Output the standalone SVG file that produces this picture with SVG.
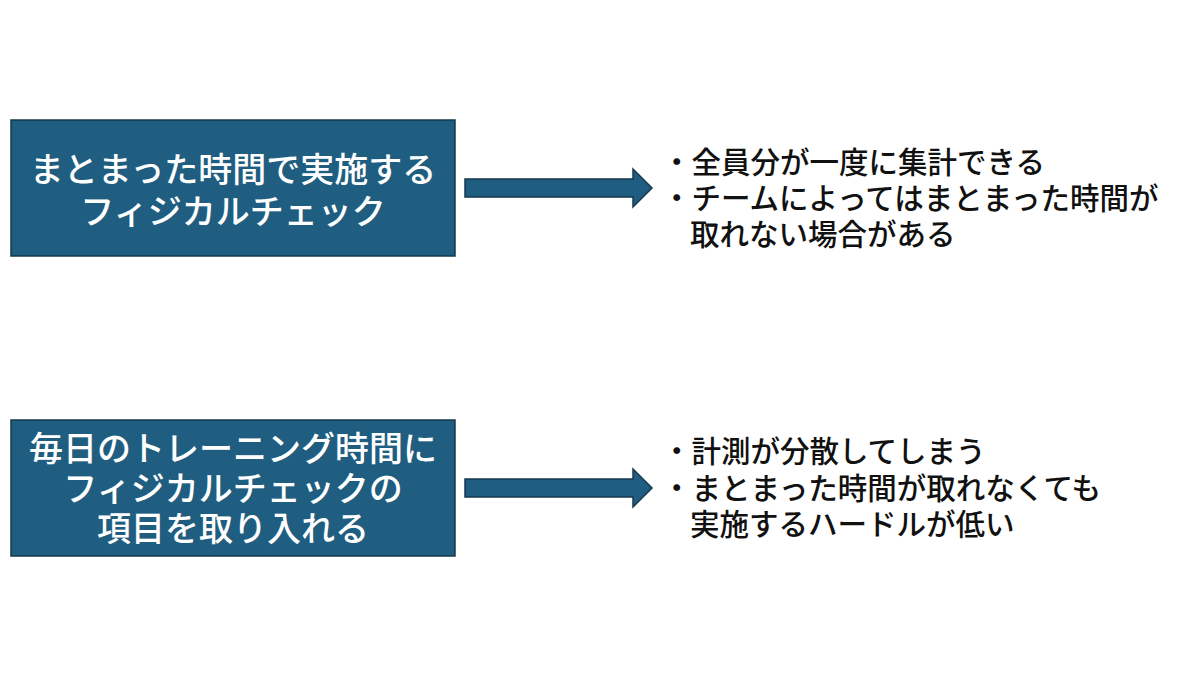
<svg xmlns="http://www.w3.org/2000/svg" width="1200" height="675" viewBox="0 0 1200 675">
<style>
.box{fill:#1f5e80;stroke:#16384d;stroke-width:1.5}
.bt{font-family:"Noto Sans CJK JP","Noto Sans",sans-serif;font-size:34px;font-weight:500;fill:#fff;text-anchor:middle}
.rt{font-family:"Noto Sans CJK JP","Noto Sans",sans-serif;font-size:29.5px;font-weight:500;fill:#111}
.arr{fill:#1f5e80;stroke:#16384d;stroke-width:1.5}
</style>
<rect width="1200" height="675" fill="#fff"/>
<g id="node1"><rect class="box" x="11" y="120" width="444" height="136"/>
<text class="bt" x="233" y="182">まとまった時間で実施する</text>
<text class="bt" x="233" y="224">フィジカルチェック</text></g>
<g id="node2"><rect class="box" x="11" y="420" width="444" height="136"/>
<text class="bt" x="233" y="461">毎日のトレーニング時間に</text>
<text class="bt" x="233" y="501">フィジカルチェックの</text>
<text class="bt" x="233" y="541">項目を取り入れる</text></g>
<g id="connectors">
<path class="arr" d="M465 179H633V169L652 188L633 207V197H465Z"/>
<path class="arr" d="M465 479H633V469L652 488L633 507V497H465Z"/>
</g>
<g id="note1"><text class="rt" x="662" y="173">・全員分が一度に集計できる</text>
<text class="rt" x="662" y="209">・チームによってはまとまった時間が</text>
<text class="rt" x="690" y="245">取れない場合がある</text></g>
<g id="note2"><text class="rt" x="662" y="462">・計測が分散してしまう</text>
<text class="rt" x="662" y="499">・まとまった時間が取れなくても</text>
<text class="rt" x="690" y="535">実施するハードルが低い</text></g>
</svg>
